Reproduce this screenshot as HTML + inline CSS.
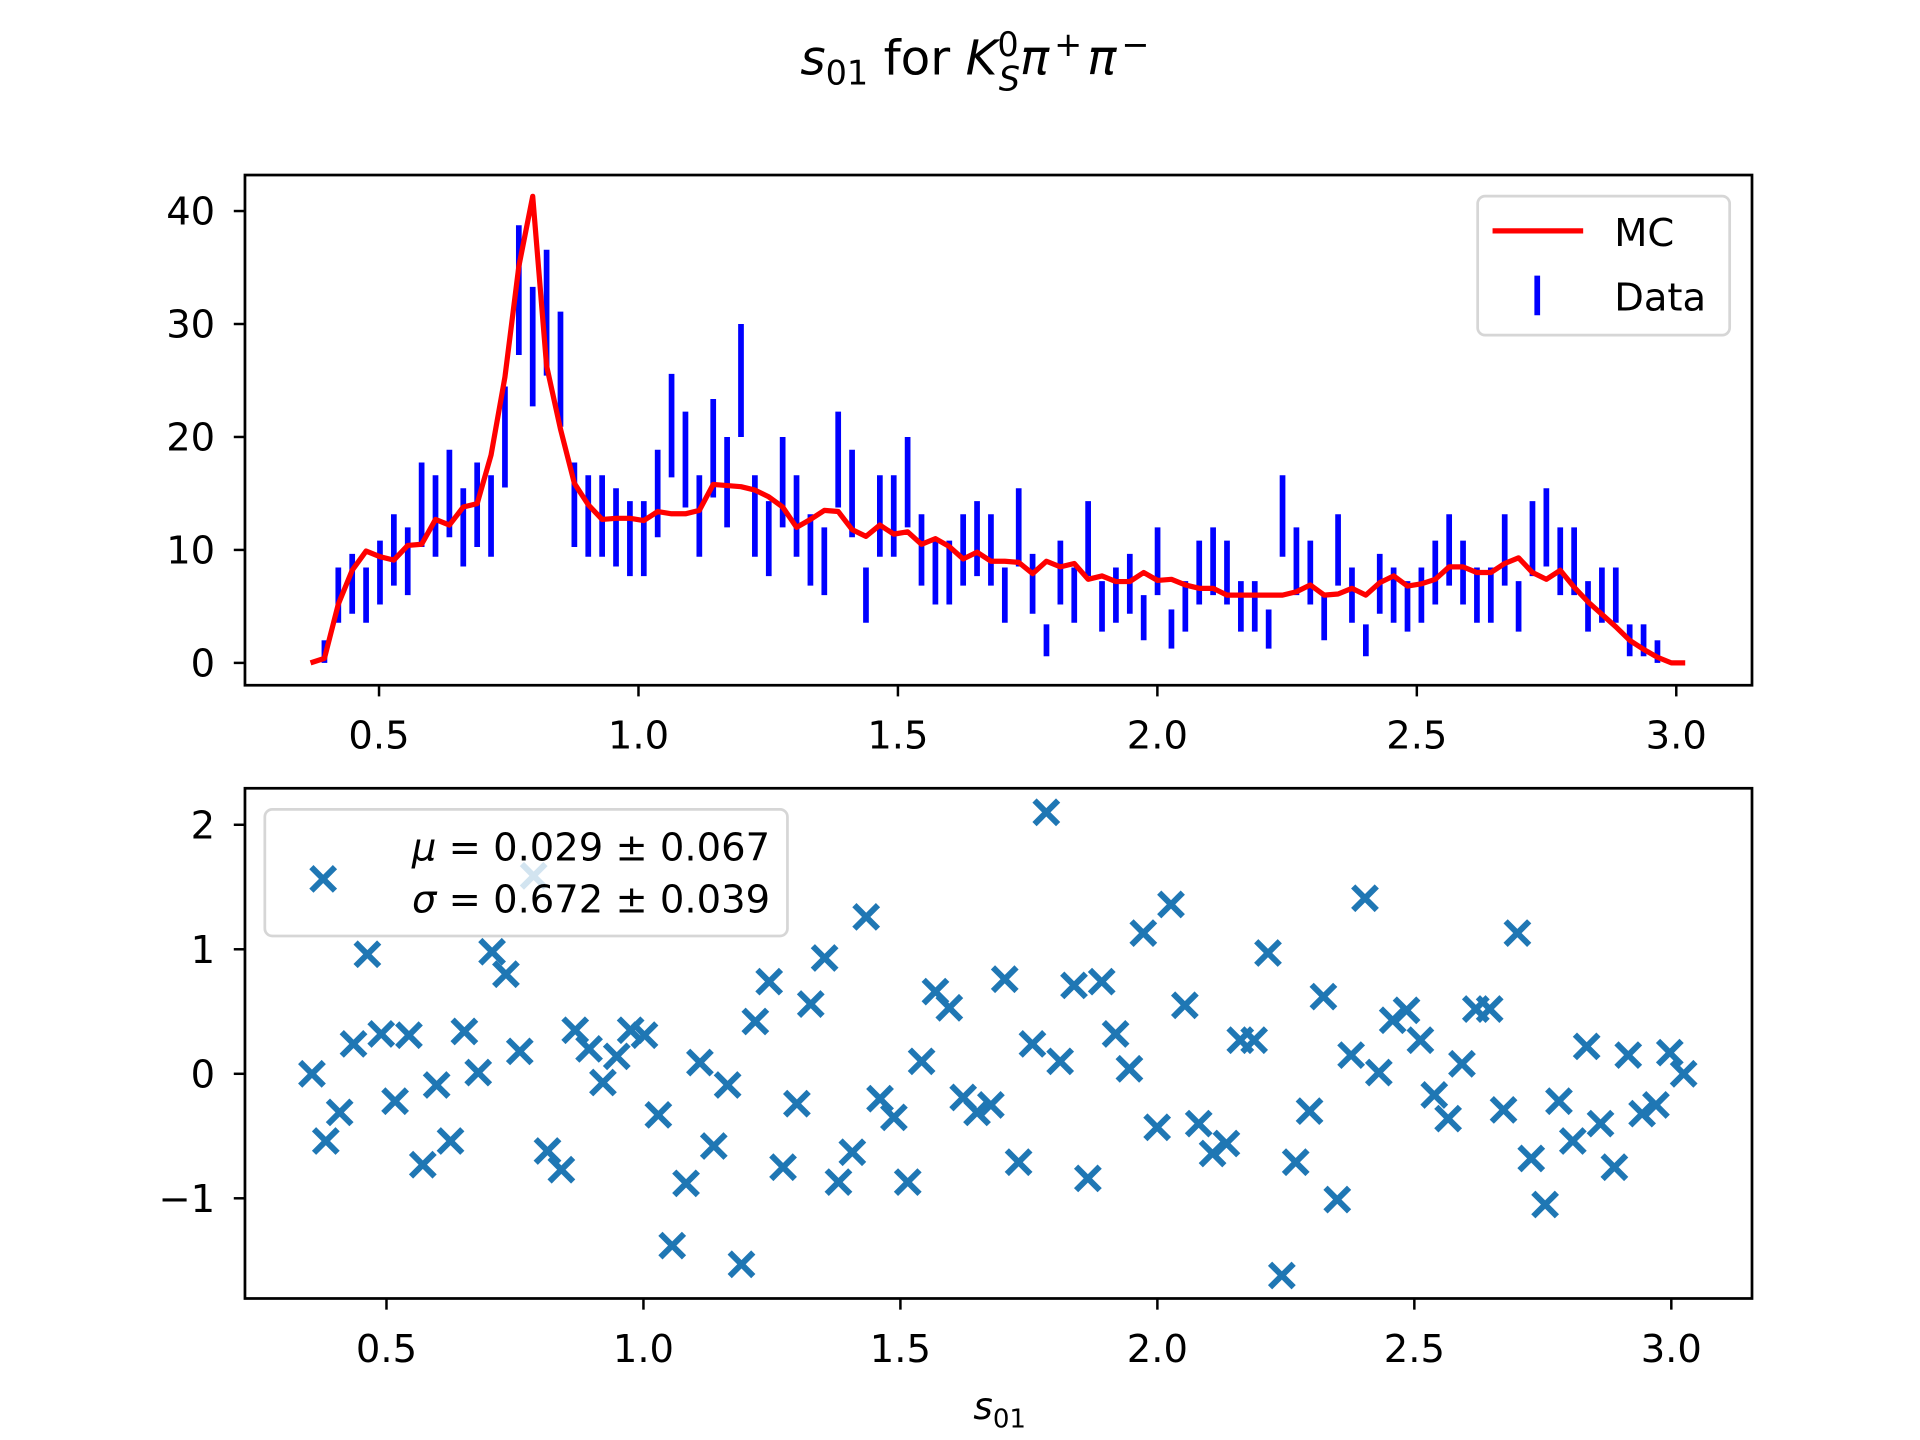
<!DOCTYPE html>
<html><head><meta charset="utf-8"><style>
html,body{margin:0;padding:0;background:#fff;}
svg{display:block;font-family:"DejaVu Sans","Liberation Sans",sans-serif;}
</style></head><body>
<svg id="fig" width="1920" height="1440" viewBox="0 0 1546 1160" xmlns="http://www.w3.org/2000/svg">
<rect x="0" y="0" width="1546" height="1160" fill="#fff"/>
<text x="785" y="60" text-anchor="middle" font-size="39"><tspan font-style="italic">s</tspan><tspan font-size="27" dy="8">01</tspan><tspan dy="-8"> for </tspan><tspan font-style="italic">K</tspan><tspan font-size="27" dy="-15">0</tspan><tspan font-size="27" font-style="italic" dx="-16" dy="28">S</tspan><tspan font-style="italic" dy="-13">π</tspan><tspan font-size="27" dy="-15" dx="4">+</tspan><tspan font-style="italic" dy="15" dx="4">π</tspan><tspan font-size="27" dy="-15" dx="4">−</tspan></text>
<g id="topAxes"></g>
<g id="botAxes"></g>
<text x="805" y="1143" text-anchor="middle" font-size="30"><tspan font-style="italic">s</tspan><tspan font-size="21" dy="7">01</tspan></text>
</svg>
<script>
const binStart = 0.368, binStep = 0.02676;
const dataCounts = [0,1,6,7,6,8,10,9,14,13, 15,12,14,13,20,33,28,31,26,14, 13,13,12,11,11,15,21,18,13,19, 16,25,13,11,16,13,10,9,18,15, 6,13,13,16,10,8,8,10,11,10, 6,12,7,2,8,6,11,5,6,7, 4,9,3,5,8,9,8,5,5,3, 13,9,8,4,10,6,2,7,6,5, 6,8,10,8,6,6,10,5,11,12, 9,9,5,6,6,2,2,1,0,0];
const mcValues = [0,0.4,5.2,8.2,9.9,9.4,9.1,10.4,10.5,12.7, 12.2,13.8,14.1,18.4,25.3,35.1,41.3,26.3,20.7,15.9, 14.0,12.7,12.8,12.8,12.6,13.4,13.2,13.2,13.5,15.8, 15.7,15.6,15.3,14.7,13.8,12.0,12.7,13.5,13.4,11.8, 11.2,12.2,11.4,11.6,10.5,11.0,10.3,9.2,9.8,9.0, 9.0,8.9,7.9,9.0,8.5,8.8,7.4,7.7,7.2,7.2, 8.0,7.3,7.4,6.9,6.6,6.6,6.0,6.0,6.0,6.0, 6.0,6.3,6.9,6.0,6.1,6.6,6.0,7.1,7.7,6.8, 7.0,7.4,8.5,8.5,8.0,8.0,8.8,9.3,8.0,7.4, 8.2,6.7,5.4,4.3,3.2,2.0,1.2,0.5,0.0,0.0];
const resStart = 0.355, resStep = 0.02696;
const residuals = [0,-0.54,-0.31,0.24,0.96,0.32,-0.22,0.31,-0.73,-0.09, -0.54,0.34,0.01,0.98,0.80,0.18,1.59,-0.62,-0.77,0.35, 0.20,-0.07,0.14,0.35,0.31,-0.33,-1.38,-0.88,0.09,-0.58, -0.09,-1.53,0.42,0.74,-0.75,-0.24,0.56,0.93,-0.87,-0.63, 1.26,-0.20,-0.35,-0.87,0.10,0.66,0.53,-0.19,-0.31,-0.25, 0.76,-0.71,0.24,2.10,0.10,0.71,-0.84,0.74,0.32,0.04, 1.13,-0.43,1.36,0.55,-0.40,-0.64,-0.56,0.27,0.27,0.97, -1.62,-0.71,-0.30,0.62,-1.01,0.15,1.41,0.01,0.43,0.51, 0.27,-0.17,-0.36,0.08,0.52,0.52,-0.29,1.13,-0.68,-1.05, -0.22,-0.54,0.22,-0.40,-0.75,0.15,-0.32,-0.25,0.17,0.00];
const xTicks = [0.5,1.0,1.5,2.0,2.5,3.0];
const xTickLabels = ["0.5","1.0","1.5","2.0","2.5","3.0"];
const topYTicks = [0,10,20,30,40];
const topYTickLabels = ["0","10","20","30","40"];
const botYTicks = [-1,0,1,2];
const botYTickLabels = ["−1","0","1","2"];

const NS = "http://www.w3.org/2000/svg";
function mk(tag, attrs, parent){const e=document.createElementNS(NS,tag);for(const k in attrs)e.setAttribute(k,attrs[k]);parent.appendChild(e);return e;}
const xTop = v => 96 + 418*v, yTop = v => 534 - 9.1*v;
const xBot = v => 104 + 414*v, yBot = v => 865 - 100.3*v;
const gTop = document.getElementById('topAxes'), gBot = document.getElementById('botAxes');

for (let i=0;i<dataCounts.length;i++){
  const n=dataCounts[i]; if(n<=0) continue;
  const x=xTop(binStart+i*binStep), e=Math.sqrt(n);
  const l=mk('line',{x1:x,x2:x,y1:yTop(n+e),y2:yTop(n-e),stroke:'#0000ff','stroke-width':4.6},gTop);
  
  
}
const pts = mcValues.map((v,i)=>xTop(binStart+i*binStep).toFixed(2)+','+yTop(v).toFixed(2)).join(' ');
const mcl = mk('polyline',{points:pts,fill:'none',stroke:'#ff0000','stroke-width':4.2,'stroke-linejoin':'round'},gTop);


const tf = mk('rect',{x:197,y:141,width:1214,height:411,fill:'none',stroke:'#000','stroke-width':2.2},gTop);


xTicks.forEach((t,i)=>{
  const x=xTop(t);
  const tk=mk('line',{x1:x,x2:x,y1:552,y2:561,stroke:'#000','stroke-width':2},gTop);
  
  
  const tx=mk('text',{x:x,y:603,'text-anchor':'middle','font-size':31},gTop);
  tx.textContent=xTickLabels[i];
  
  
});
topYTicks.forEach((t,i)=>{
  const y=yTop(t);
  const tk=mk('line',{x1:188,x2:197,y1:y,y2:y,stroke:'#000','stroke-width':2},gTop);
  
  
  const tx=mk('text',{x:173,y:y+11,'text-anchor':'end','font-size':31},gTop);
  tx.textContent=topYTickLabels[i];
  
  
});
const lg=mk('g',{},gTop);


mk('rect',{x:1190,y:158,width:203,height:112,rx:6,fill:'#fff','fill-opacity':0.8,stroke:'#d6d6d6','stroke-width':2.2},lg);
mk('line',{x1:1202,x2:1275,y1:186,y2:186,stroke:'#ff0000','stroke-width':4.2},lg);
const t1=mk('text',{x:1300,y:198,'font-size':31},lg);t1.textContent='MC';


mk('line',{x1:1238,x2:1238,y1:222,y2:254,stroke:'#0000ff','stroke-width':4.6},lg);
const t2=mk('text',{x:1300,y:250,'font-size':31},lg);t2.textContent='Data';



function xMark(cx,cy,parent){
  const g=mk('g',{stroke:'#1f77b4','stroke-width':4.8},parent);
  mk('line',{x1:cx-9.5,y1:cy-9.5,x2:cx+9.5,y2:cy+9.5},g);
  mk('line',{x1:cx-9.5,y1:cy+9.5,x2:cx+9.5,y2:cy-9.5},g);
  return g;
}
residuals.forEach((r,i)=>{
  const g=xMark(xBot(resStart+i*resStep),yBot(r),gBot);
  
  
});
const bf = mk('rect',{x:197,y:635,width:1214,height:411,fill:'none',stroke:'#000','stroke-width':2.2},gBot);


xTicks.forEach((t,i)=>{
  const x=xBot(t);
  const tk=mk('line',{x1:x,x2:x,y1:1046,y2:1055,stroke:'#000','stroke-width':2},gBot);
  
  
  const tx=mk('text',{x:x,y:1097,'text-anchor':'middle','font-size':31},gBot);
  tx.textContent=xTickLabels[i];
  
  
});
botYTicks.forEach((t,i)=>{
  const y=yBot(t);
  const tk=mk('line',{x1:188,x2:197,y1:y,y2:y,stroke:'#000','stroke-width':2},gBot);
  
  
  const tx=mk('text',{x:173,y:y+11,'text-anchor':'end','font-size':31},gBot);
  tx.textContent=botYTickLabels[i];
  
  
});
const lg2=mk('g',{},gBot);


mk('rect',{x:213,y:652,width:421,height:102,rx:6,fill:'#fff','fill-opacity':0.8,stroke:'#d6d6d6','stroke-width':2.2},lg2);
xMark(260,708,lg2);
const m1=mk('text',{x:620,y:693,'text-anchor':'end','font-size':31},lg2);
m1.innerHTML='<tspan font-style="italic">μ</tspan> = 0.029 ± 0.067';


const m2=mk('text',{x:620,y:735,'text-anchor':'end','font-size':31},lg2);
m2.innerHTML='<tspan font-style="italic">σ</tspan> = 0.672 ± 0.039';


</script>
</body></html>
